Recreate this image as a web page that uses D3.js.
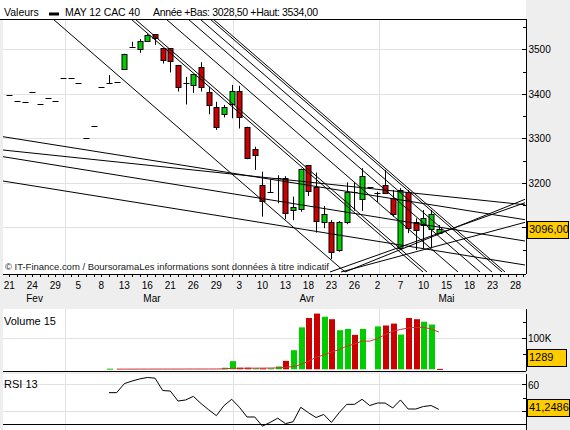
<!DOCTYPE html>
<html>
<head>
<meta charset="utf-8">
<script src="https://cdn.jsdelivr.net/npm/d3@7"></script>
<style>
  body { margin: 0; background: #eeeeee; }
  svg { display: block; }
</style>
</head>
<body>
<div id="chart"></div>
<script>
// trading days Feb 21 -> May 14 2012 (index 0..56), axis runs on to May 29
const dayLabels = ["21","24","29","5","8","13","16","21","26","29","3","10","13","18","23","26","2","7","10","15","18","23","28"];
const monthLabels = ["Fev", "Mar", "Avr", "Mai"];
const monthIndex = [3.3, 18.6, 38.8, 57];
const monthStart = [7, 29, 48]; // first trading day of Mar, Avr, Mai

const opens  = [3397,3383,3381,3403,3377,3390,3383,3435,3435,3424,3300,3327,3415,3424,3427,
  3455,3506,3502,3519,3534,3502,3502,3465,3425,3420,3460,3403,3370,3354,3376,3406,3326,3275,
  3194,3179,3210,3211,3139,3140,3240,3191,3114,3111,3047,3111,3179,3163,3190,3178,3195,3165,
  3053,3180,3113,3105,3096,3088];
const highs  = [3397,3383,3381,3403,3377,3390,3383,3435,3435,3424,3300,3327,3415,3442,3427,
  3490,3517,3523,3534,3534,3502,3502,3465,3438,3444,3471,3416,3382,3375,3420,3418,3326,3281,
  3225,3208,3217,3215,3169,3232,3240,3223,3148,3116,3114,3201,3201,3233,3190,3180,3229,3184,
  3188,3184,3120,3139,3139,3105];
const lows   = [3397,3383,3381,3403,3377,3390,3383,3435,3435,3424,3300,3327,3415,3424,3427,
  3455,3506,3492,3518,3510,3468,3448,3405,3376,3402,3405,3354,3319,3347,3345,3322,3253,3229,
  3124,3179,3154,3118,3116,3135,3170,3088,3098,3028.5,3045,3107,3137,3137,3190,3157,3176,3124,
  3049,3087,3049,3053,3055,3085];
const closes = [3397,3383,3381,3403,3377,3390,3383,3435,3435,3424,3300,3327,3415,3424,3427,
  3489,3506,3519,3532,3525,3476,3472,3416,3425,3444,3414,3374,3325,3370,3406,3347,3257,3261,
  3157,3179,3210,3133,3145,3230,3182,3114,3131,3043,3111,3179,3179,3215,3190,3178,3176,3128,
  3184,3098,3096,3120,3130,3096];

// volume in thousands, colour flag 1 = green, 0 = red
const volumes = [null,null,null,null,null,null,null,null,null,null,null,null,null,2,null,
  null,null,null,null,null,null,null,null,null,null,null,null,null,5,26,5,5,3,
  3,3,9,27,61,134,164,178,168,160,125,129,110,129,null,137,140,146,
  111,164,160,152,143,1.289];
const volUp = [0,0,0,0,0,0,0,0,0,0,0,0,0,1,0,
  0,0,0,0,0,0,0,0,0,0,0,0,0,1,1,0,0,1,
  0,1,1,0,1,1,0,0,1,0,1,1,0,1,0,1,0,0,
  1,0,0,1,1,0];
const volAverage = [null,null,null,null,null,null,null,null,null,null,null,null,null,null,0.6,
  0.6,0.6,0.7,0.7,0.7,0.8,0.8,0.8,0.9,0.9,0.9,1,1,1.5,3,3.2,3.5,3.6,
  3.8,4,4.4,6,9,15,26,38,46,55,63,74,81,90,90,98,111,122,
  127,132,134,134,129,119];

const rsi = [null,null,null,null,null,null,null,null,null,null,null,null,null,53.8,53.8,
  60.6,62.5,64.1,65.2,64.7,55.4,55,47.5,48.3,51,45.6,40.9,36.5,44.1,48.8,42.8,35.5,35.5,
  28.6,31.4,34.6,30.5,31.9,42.8,38.7,35.1,37.4,31.4,38.7,45,45,48.8,44.1,46,46,42.3,
  48.3,41.5,41.5,43.4,44.1,41.25];

// drawn trend lines: [index1, price1, index2, price2]
const trendLines = [
  // falling channel lines
  [5.70, 3568, 43.77, 2999.6],
  [15.87, 3568, 53.94, 2999.6],
  [16.39, 3568, 54.46, 2999.6],
  [20.43, 3568, 58.50, 2999.6],
  [23.30, 3568, 61.37, 2999.6],
  [24.86, 3568, 62.93, 2999.6],
  [26.17, 3568, 64.24, 2999.6],
  [26.56, 3568, 64.63, 2999.6],
  // flat supports from the left
  [-0.82, 3303.6, 67.24, 3117.1],
  [-0.82, 3273.7, 67.24, 3150.6],
  [-0.82, 3258.7, 67.24, 3069.2],
  [-0.82, 3204.0, 67.24, 3015.3],
  // rising lines from the April low
  [43.25, 2999.6, 67.24, 3111.2],
  [41.81, 2999.6, 67.24, 3155.3],
  [43.77, 2999.6, 67.24, 3162.9]
];

const priceTicks = [3500, 3400, 3300, 3200, 3100];
const lastPrice = "3096,00";
const lastVolume = "1289";
const lastRsi = "41,2486";

const green = "#00cc00", red = "#cc0000";
const W = 570, H = 430;
const left = 3, right = 526;
const main = { top: 19, bottom: 274 };
const vol = { top: 309, bottom: 371 };
const osc = { top: 374, bottom: 430 };
const font = "'Liberation Sans', Arial, sans-serif";

const svg = d3.select("#chart").append("svg")
  .attr("width", W)
  .attr("height", H)
  .style("font-family", font);

svg.append("rect").attr("width", W).attr("height", H).attr("fill", "#eeeeee");

const x = d3.scaleLinear().domain([0, 66]).range([9.3, 515.5]);
const y = d3.scaleLinear().domain([3100, 3500]).range([227.3, 49.3]);
const yVol = d3.scaleLinear().domain([0, 100]).range([369.3, 338]);
const yRsi = d3.scaleLinear().domain([30, 60]).range([424.3, 384.4]);

const px = v => Math.round(v) + 0.5;

// panels
[main, vol, osc].forEach(p => {
  svg.append("rect")
    .attr("x", left).attr("y", p.top)
    .attr("width", right - left).attr("height", p.bottom - p.top)
    .attr("fill", "white");
});
svg.append("rect").attr("x", 0).attr("y", 0).attr("width", right).attr("height", main.top).attr("fill", "white");

// vertical month gridlines on every panel
[main, vol, osc].forEach(p => {
  svg.selectAll(null).data(monthStart).enter().append("line")
    .attr("x1", d => px(x(d + 0.2))).attr("x2", d => px(x(d + 0.2)))
    .attr("y1", p.top).attr("y2", p.bottom)
    .attr("stroke", "#e2e2e2");
});

// price grid
svg.selectAll(null).data(priceTicks).enter().append("line")
  .attr("x1", left).attr("x2", right)
  .attr("y1", d => px(y(d))).attr("y2", d => px(y(d)))
  .attr("stroke", "#e2e2e2");

// candles
const candles = d3.range(opens.length).filter(i => opens[i] != null);
const gC = svg.append("g");
candles.forEach(i => {
  const cx = px(x(i));
  if (highs[i] > lows[i]) {
    gC.append("line")
      .attr("x1", cx).attr("x2", cx)
      .attr("y1", y(highs[i])).attr("y2", y(lows[i]))
      .attr("stroke", "black");
  }
  if (opens[i] == closes[i]) {
    gC.append("line")
      .attr("x1", cx - 3).attr("x2", cx + 3)
      .attr("y1", px(y(closes[i]))).attr("y2", px(y(closes[i])))
      .attr("stroke", "black");
  } else {
    const top = y(Math.max(opens[i], closes[i]));
    const bot = y(Math.min(opens[i], closes[i]));
    gC.append("rect")
      .attr("x", cx - 2.5).attr("y", Math.round(top) + 0.5)
      .attr("width", 5).attr("height", Math.max(1, Math.round(bot - top)))
      .attr("fill", closes[i] > opens[i] ? green : red)
      .attr("stroke", "black");
  }
});

// trend lines, clipped to the price panel
svg.append("clipPath").attr("id", "clipMain")
  .append("rect").attr("x", left).attr("y", main.top)
  .attr("width", right - left).attr("height", main.bottom - main.top);
svg.append("g").attr("clip-path", "url(#clipMain)")
  .selectAll("line").data(trendLines).enter().append("line")
  .attr("x1", d => x(d[0])).attr("y1", d => y(d[1]))
  .attr("x2", d => x(d[2])).attr("y2", d => y(d[3]))
  .attr("stroke", "black").attr("stroke-width", 1);

svg.append("text")
  .attr("x", 5).attr("y", 270)
  .attr("font-size", 9.5)
  .attr("fill", "#222")
  .attr("textLength", 324)
  .text("© IT-Finance.com / BoursoramaLes informations sont données à titre indicatif");

// header
svg.append("line").attr("x1", 0).attr("x2", right).attr("y1", 19.5).attr("y2", 19.5).attr("stroke", "black");
svg.append("text").attr("x", 4).attr("y", 16).attr("font-size", 10.5).text("Valeurs");
svg.append("rect").attr("x", 49).attr("y", 12.5).attr("width", 10).attr("height", 3).attr("fill", "black");
svg.append("text").attr("x", 65).attr("y", 16).attr("font-size", 10.5).attr("textLength", 75).text("MAY 12 CAC 40");
svg.append("text").attr("x", 153).attr("y", 16).attr("font-size", 10.5).attr("textLength", 165).text("Année +Bas: 3028,50 +Haut: 3534,00");

// price axis
const yAxis = d3.axisRight(y).tickValues(d3.range(3050, 3560, 50))
  .tickSize(0).tickFormat(d => d % 100 == 0 && d != 3100 ? d : "");
const gY = svg.append("g").attr("transform", `translate(${right + 0.5},0)`).call(yAxis);
gY.select(".domain").remove();
gY.selectAll("text").attr("x", 2).attr("font-size", 10).attr("font-family", font).attr("fill", "black");
svg.selectAll(null).data(d3.range(3050, 3560, 50)).enter().append("line")
  .attr("x1", d => d % 100 == 0 ? right - 4 : right - 3).attr("x2", right)
  .attr("y1", d => px(y(d))).attr("y2", d => px(y(d)))
  .attr("stroke", "black");
svg.append("line").attr("x1", right + 0.5).attr("x2", right + 0.5).attr("y1", main.top).attr("y2", main.bottom).attr("stroke", "black");
svg.append("line").attr("x1", left).attr("x2", right).attr("y1", main.bottom + 0.5).attr("y2", main.bottom + 0.5).attr("stroke", "black");

// day ticks + labels
svg.selectAll(null).data(d3.range(0, 68)).enter().append("line")
  .attr("x1", d => px(x(d))).attr("x2", d => px(x(d)))
  .attr("y1", main.bottom).attr("y2", main.bottom + 3)
  .attr("stroke", "black");
svg.selectAll(null).data(dayLabels).enter().append("text")
  .attr("x", (d, i) => x(i * 3))
  .attr("y", 289)
  .attr("text-anchor", "middle")
  .attr("font-size", 10)
  .text(d => d);
svg.selectAll(null).data(monthLabels).enter().append("text")
  .attr("x", (d, i) => x(monthIndex[i]))
  .attr("y", 302)
  .attr("text-anchor", "middle")
  .attr("font-size", 10)
  .text(d => d);

function valueBox(yc, w, label) {
  svg.append("rect")
    .attr("x", right + 1.5).attr("y", Math.round(yc - 8) + 0.5)
    .attr("width", w).attr("height", 17)
    .attr("fill", "#ffcc00").attr("stroke", "black");
  svg.append("text")
    .attr("x", right + 3).attr("y", yc + 4)
    .attr("font-size", 11)
    .text(label);
}
valueBox(229, 41, lastPrice);

// volume panel
svg.append("line").attr("x1", left).attr("x2", right).attr("y1", px(yVol(100))).attr("y2", px(yVol(100))).attr("stroke", "#e2e2e2");
svg.selectAll(null).data(d3.range(volumes.length).filter(i => volumes[i] != null)).enter().append("rect")
  .attr("x", i => Math.round(x(i)) - 2)
  .attr("y", i => yVol(volumes[i]))
  .attr("width", 6)
  .attr("height", i => Math.max(1, yVol(0) - yVol(volumes[i])))
  .attr("fill", i => volUp[i] ? green : red);
svg.append("path")
  .datum(d3.range(volAverage.length).filter(i => volAverage[i] != null))
  .attr("d", d3.line().x(i => x(i)).y(i => yVol(volAverage[i])))
  .attr("fill", "none").attr("stroke", "#cc3333").attr("stroke-width", 1);
svg.append("text").attr("x", 4).attr("y", 325).attr("font-size", 11).text("Volume 15");
svg.selectAll(null).data([50, 100, 150]).enter().append("line")
  .attr("x1", d => d == 100 ? right - 4 : right - 3).attr("x2", right)
  .attr("y1", d => px(yVol(d))).attr("y2", d => px(yVol(d)))
  .attr("stroke", "black");
svg.append("text").attr("x", right + 2).attr("y", 342).attr("font-size", 10).text("100K");
svg.append("line").attr("x1", right + 0.5).attr("x2", right + 0.5).attr("y1", vol.top).attr("y2", vol.bottom).attr("stroke", "black");
svg.append("line").attr("x1", left).attr("x2", right).attr("y1", vol.bottom + 0.5).attr("y2", vol.bottom + 0.5).attr("stroke", "black");
valueBox(357, 39, lastVolume);

// RSI panel
svg.selectAll(null).data([40, 60]).enter().append("line")
  .attr("x1", left).attr("x2", right)
  .attr("y1", d => px(yRsi(d))).attr("y2", d => px(yRsi(d)))
  .attr("stroke", "#e2e2e2");
svg.append("line").attr("x1", left).attr("x2", right).attr("y1", px(yRsi(30))).attr("y2", px(yRsi(30))).attr("stroke", "black");
svg.append("path")
  .datum(d3.range(rsi.length).filter(i => rsi[i] != null))
  .attr("d", d3.line().x(i => x(i)).y(i => yRsi(rsi[i])))
  .attr("fill", "none").attr("stroke", "black").attr("stroke-width", 1);
svg.append("text").attr("x", 4).attr("y", 388).attr("font-size", 11).text("RSI 13");
svg.selectAll(null).data([40, 50, 60]).enter().append("line")
  .attr("x1", d => d == 50 ? right - 3 : right - 4).attr("x2", right)
  .attr("y1", d => px(yRsi(d))).attr("y2", d => px(yRsi(d)))
  .attr("stroke", "black");
svg.append("text").attr("x", right + 2).attr("y", 389).attr("font-size", 10).text("60");
svg.append("line").attr("x1", right + 0.5).attr("x2", right + 0.5).attr("y1", osc.top).attr("y2", osc.bottom).attr("stroke", "black");
valueBox(407, 42, lastRsi);
</script>
</body>
</html>
